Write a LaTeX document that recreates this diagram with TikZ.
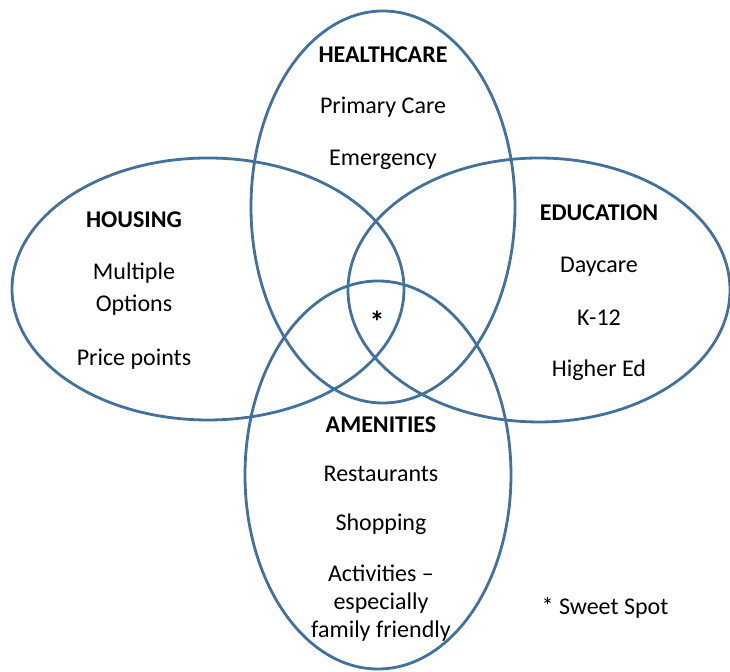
\documentclass[tikz,border=0pt]{standalone}
\usepackage{fontspec}
\setmainfont{Carlito}
\usepackage{tikz}
\usepackage{xcolor}
\definecolor{vennblue}{HTML}{41719C}

\begin{document}
\begin{tikzpicture}[x=0.5pt, y=-0.5pt,
  venn/.style={draw=vennblue, line width=1.4pt},
  every node/.style={inner sep=1pt, font=\fontsize{12}{14}\selectfont},
  head/.style={font=\fontsize{12}{14}\selectfont\bfseries}]
\useasboundingbox (0,0) rectangle (730,672);
% Circles
\coordinate (hc) at (383,207);
\coordinate (hs) at (208,289);
\coordinate (ed) at (539,290);
\coordinate (am) at (378,475);
\draw[venn] (hc) ellipse [x radius=132, y radius=196];
\draw[venn] (hs) ellipse [x radius=196, y radius=131];
\draw[venn] (ed) ellipse [x radius=191, y radius=132];
\draw[venn] (am) ellipse [x radius=133, y radius=194];
% Healthcare
\node[head] (hchead) at (383,55) {HEALTHCARE};
\node (hc1) at (383,107) {Primary Care};
\node (hc2) at (383,160) {Emergency};
% Housing
\node[head] (hshead) at (134,220) {HOUSING};
\node (hs1) at (134,273) {Multiple};
\node (hs2) at (134,305) {Options};
\node (hs3) at (134,359) {Price points};
% Education
\node[head] (edhead) at (599,213) {EDUCATION};
\node (ed1) at (599,267) {Daycare};
\node (ed2) at (599,318) {K-12};
\node (ed3) at (599,370) {Higher Ed};
% Amenities
\node[head] (amhead) at (381,425) {AMENITIES};
\node (am1) at (381,474) {Restaurants};
\node (am2) at (381,524) {Shopping};
\node (am3) at (381,573) {Activities –};
\node (am4) at (381,603) {especially};
\node (am5) at (381,631) {family friendly};
% Sweet spot
\node[font=\fontsize{15}{16}\selectfont\bfseries] (star) at (377,322) {*};
\node (key) at (605,608) {* Sweet Spot};
\end{tikzpicture}
\end{document}
